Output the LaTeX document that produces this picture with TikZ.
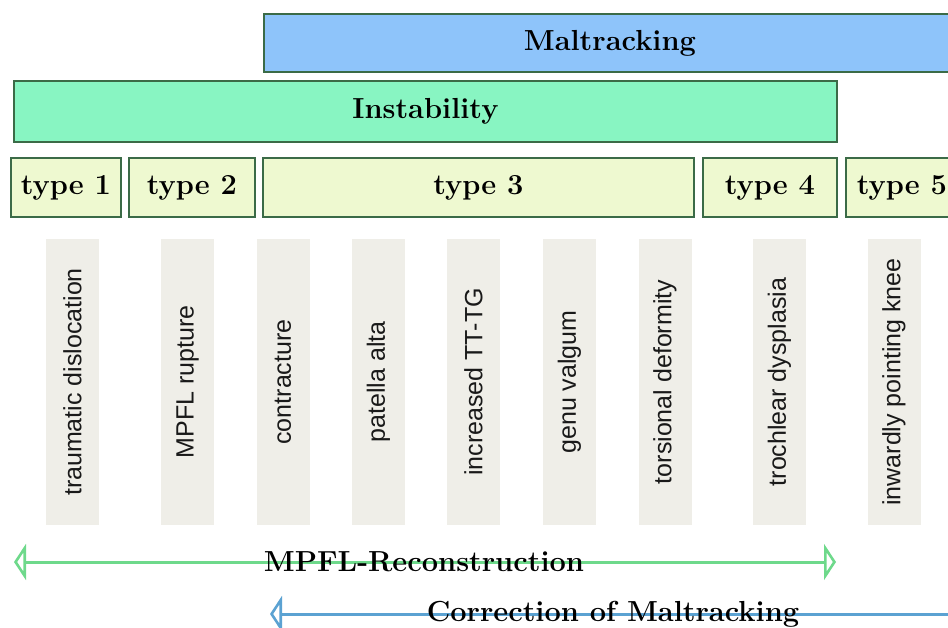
\documentclass[tikz,border=0pt]{standalone}
\usepackage{fontspec}
\newfontfamily\labelsans{Liberation Sans}
\usetikzlibrary{arrows.meta}
\definecolor{frame}{HTML}{3B6B47}
\definecolor{maltfill}{HTML}{8EC4FA}
\definecolor{instfill}{HTML}{88F5C2}
\definecolor{typefill}{HTML}{EEF9D0}
\definecolor{colfill}{HTML}{EFEEE8}
\definecolor{greenarrow}{HTML}{6ED98B}
\definecolor{bluearrow}{HTML}{5BA2D2}
\tikzset{
  band/.style={draw=frame, line width=1.8pt, inner sep=0pt, anchor=north west,
    font=\fontsize{29}{31}\selectfont\bfseries},
  typebox/.style={band, fill=typefill, minimum height=59pt},
  factor/.style={fill=colfill, rotate=90, inner sep=0pt, minimum width=286pt,
    minimum height=53pt, font=\labelsans\fontsize{25}{27}\selectfont, text=black!90},
  treat/.style={line width=3pt, {Triangle[open, length=12pt, width=36pt, line width=2.6pt]}-{Triangle[open, length=12pt, width=36pt, line width=2.6pt]}},
  treatone/.style={line width=3pt, {Triangle[open, length=12pt, width=36pt, line width=2.6pt]}-},
  treatlabel/.style={anchor=base, font=\fontsize{29}{31}\selectfont\bfseries}
}
\begin{document}
\begin{tikzpicture}[x=1pt, y=-1pt]
\useasboundingbox (0,0) rectangle (948,628);
\clip (0,0) rectangle (948,628);

% groups
\node[band, fill=maltfill, minimum width=692pt, minimum height=58pt] (malt) at (263,13) {Maltracking};
\node[band, fill=instfill, minimum width=823pt, minimum height=61pt] (inst) at (13,80) {Instability};

% types
\node[typebox, minimum width=110pt] (t1) at (10,157) {type 1};
\node[typebox, minimum width=126pt] (t2) at (128,157) {type 2};
\node[typebox, minimum width=431pt] (t3) at (262,157) {type 3};
\node[typebox, minimum width=134pt] (t4) at (702,157) {type 4};
\node[typebox, minimum width=112pt] (t5) at (845,157) {type 5};

% contributing factors
\node[factor] (f1) at (72.5,382) {traumatic dislocation};
\node[factor] (f2) at (187.5,382) {MPFL rupture};
\node[factor] (f3) at (283,382) {contracture};
\node[factor] (f4) at (378.5,382) {patella alta};
\node[factor] (f5) at (473.5,382) {increased TT-TG};
\node[factor] (f6) at (569.5,382) {genu valgum};
\node[factor] (f7) at (665,382) {torsional deformity};
\node[factor] (f8) at (779.5,382) {trochlear dysplasia};
\node[factor] (f9) at (894,382) {inwardly pointing knee};

% treatments
\coordinate (mpflL) at (14,562);
\coordinate (mpflR) at (836,562);
\draw[treat, greenarrow] (mpflL) -- (mpflR);
\node[treatlabel] (mpfl) at (424,571) {MPFL-Reconstruction};

\coordinate (corrL) at (270,614);
\coordinate (corrR) at (960,614);
\draw[treatone, bluearrow] (corrL) -- (corrR);
\node[treatlabel] (corr) at (613,621) {Correction of Maltracking};
\end{tikzpicture}
\end{document}
